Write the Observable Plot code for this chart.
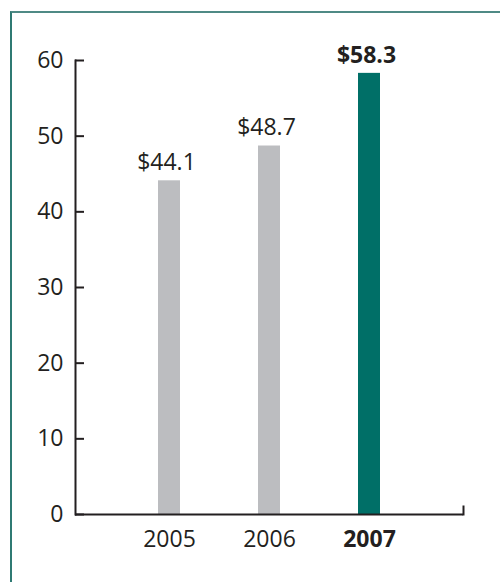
<!DOCTYPE html>
<html>
<head>
<meta charset="utf-8">
<script src="https://cdn.jsdelivr.net/npm/d3@7"></script>
<script src="https://cdn.jsdelivr.net/npm/@observablehq/plot@0.6"></script>
<style>
  html, body { margin: 0; padding: 0; background: #fff; overflow: hidden; }
  #wrap { position: relative; width: 500px; height: 582px; overflow: hidden; }
  #border { position: absolute; left: 10px; top: 11px; width: 600px; height: 700px; border-left: 2px solid #2f7a73; border-top: 2px solid #4f8a85; box-sizing: border-box; }
  #chart { position: absolute; left: 0; top: 0; }
  svg { font-family: "Open Sans", sans-serif; }
</style>
</head>
<body>
<div id="wrap"><div id="border"></div><div id="chart"></div></div>
<script>
const years = ["2005", "2006", "2007"];
const values = [44.1, 48.7, 58.3];
const labels = ["$44.1", "$48.7", "$58.3"];
const highlight = [false, false, true];
const yTicks = [0, 10, 20, 30, 40, 50, 60];

const data = years.map((y, i) => ({year: y, value: values[i], label: labels[i], hi: highlight[i]}));
const normal = data.filter(d => !d.hi);
const bold = data.filter(d => d.hi);
const ink = "#231f20";

const chart = Plot.plot({
  width: 500,
  height: 582,
  marginLeft: 75,
  marginRight: 37,
  marginTop: 60,
  marginBottom: 68,
  style: {fontFamily: "'Open Sans', sans-serif", background: "transparent", overflow: "visible"},
  x: {domain: years, paddingInner: 0.782, paddingOuter: 0.812, axis: null},
  y: {domain: [0, 60], axis: null},
  marks: [
    Plot.barY(data, {x: "year", y: "value", fill: d => d.hi ? "#006f67" : "#bcbdc0"}),
    Plot.ruleY(yTicks, {y: d => d, insetRight: 379, stroke: ink, strokeWidth: 2}),
    Plot.ruleY([0], {stroke: ink, strokeWidth: 2}),
    Plot.frame({anchor: "left", stroke: ink, strokeWidth: 2}),
    Plot.frame({anchor: "right", insetTop: 446, stroke: ink, strokeWidth: 2}),
    Plot.text(yTicks, {y: d => d, text: d => String(d), frameAnchor: "left", dx: -12, textAnchor: "end", fontSize: 23, fill: ink}),
    Plot.text(normal, {x: "year", text: "year", frameAnchor: "bottom", dy: 32, fontSize: 23, fill: ink}),
    Plot.text(bold, {x: "year", text: "year", frameAnchor: "bottom", dy: 32, fontSize: 23, fill: ink, fontWeight: "bold"}),
    Plot.text(normal, {x: "year", y: "value", text: "label", dy: -18, dx: -3, fontSize: 23, fill: ink}),
    Plot.text(bold, {x: "year", y: "value", text: "label", dy: -18, dx: -3, fontSize: 23, fill: ink, fontWeight: "bold"})
  ]
});
document.getElementById("chart").appendChild(chart);
</script>
</body>
</html>
